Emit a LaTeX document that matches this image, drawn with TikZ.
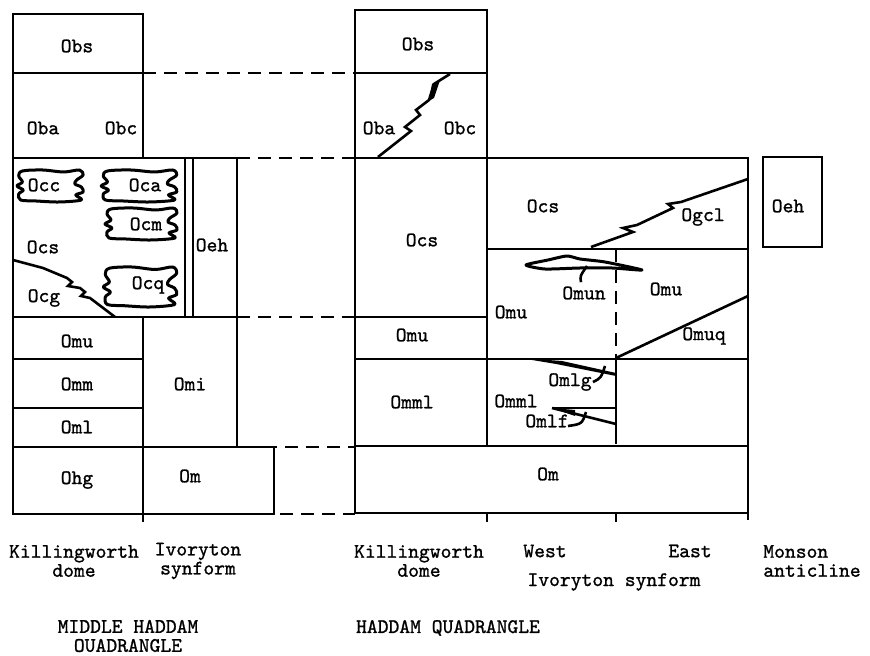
\documentclass[tikz,border=0pt]{standalone}
\usepackage{fontspec}
\usetikzlibrary{positioning}

\newfontfamily\typeface[FakeBold=1.1]{lmmono10-regular.otf}
\newcommand{\typefont}{\fontsize{10.3}{9.5}\selectfont\typeface}

\begin{document}
\begin{tikzpicture}[x=0.5pt,y=-0.5pt,line width=1.3pt,
  unit/.style={font=\typefont, inner sep=1pt},
  note/.style={font=\typefont, align=center, inner sep=1pt},
  tie/.style={dash pattern=on 6.5pt off 4pt},
  lens/.style={line width=1.5pt, line join=round},
  blob/.pic={
    \draw[lens] plot[smooth cycle, tension=0.55] coordinates {
      (-30,-15) (-8,-16) (15,-14) (32,-16) (36,-11) (29,-6) (27,-2)
      (34,1) (36,6) (28,9) (34,14) (10,16) (-15,15) (-32,14)
      (-34,8) (-29,4) (-36,0) (-30,-4) (-34,-10)};
  }]
  \path[use as bounding box] (0,0) rectangle (870,656);

  % Middle Haddam quadrangle, Killingworth dome
  \draw (13,14) rectangle (143,73);
  \draw (13,73) rectangle (143,158);
  \draw (13,158) rectangle (237,317);
  \draw (185,158) -- (185,317);
  \draw (193,158) -- (193,317);
  \draw (13,317) rectangle (143,359);
  \draw (13,359) rectangle (143,408);
  \draw (13,408) rectangle (143,447);
  \draw (13,447) rectangle (143,514);
  \draw (143,317) rectangle (237,447);
  \draw (143,447) -- (143,522);
  \draw (143,514) -- (274,514) -- (274,447) -- (143,447);

  % contact Ocs / Ocg
  \draw (13,260) -- (43,268) -- (67,278) -- (72,282) -- (68,286) -- (80,288)
    -- (85,292) -- (81,296) -- (90,298) -- (115,317);

  % lenses in Ocs
  \pic[xscale=0.92] at (50,186) {blob};
  \pic[xscale=1.05] at (139,186) {blob};
  \pic[xscale=1.0] at (141,224) {blob};
  \pic[xscale=1.02,yscale=1.25] at (140,287) {blob};

  % tie lines
  \draw[tie] (143,73) -- (355,73);
  \draw[tie] (237,158) -- (355,158);
  \draw[tie] (237,317) -- (355,317);
  \draw[tie] (243,447) -- (355,447);
  \draw[tie] (280,514) -- (355,514);

  % Haddam quadrangle
  \draw (355,10) rectangle (487,73);
  \draw (355,73) rectangle (487,158);
  \draw (355,158) rectangle (487,317);
  \draw (355,317) rectangle (487,359);
  \draw (487,158) rectangle (748,249);
  \draw (487,249) rectangle (748,359);
  \draw (355,359) rectangle (748,446);
  \draw (487,359) -- (487,446);
  \draw (616,359) -- (616,444);
  \draw (355,446) rectangle (748,513);
  \draw (487,513) -- (487,522);
  \draw (616,513) -- (616,522);
  \draw (748,513) -- (748,520);
  \draw[tie] (616,249) -- (616,358);
  \draw (763,157) rectangle (822,247);

  % contact Oba / Obc
  \draw (378,157) -- (411,131) -- (405,127) -- (420,115) -- (416,110) -- (429,100)
    -- (434,84) -- (450,74);
  \fill (429,101) -- (432,84) -- (440,80) -- (434,98) -- cycle;

  % contact Ocs / Ogcl
  \draw (591,247) -- (633,232) -- (623,228) -- (637,225) -- (673,208)
    -- (668,204) -- (681,202) -- (748,179);

  % Omun lens and Omuq contact
  \draw[lens] plot[smooth cycle, tension=0.4] coordinates {
    (526,265) (548,260) (567,256) (580,259) (605,262) (642,270)
    (612,268) (580,268) (545,269)};
  \draw (616,358) -- (748,296);

  % Omlg and Omlf wedges
  \fill (520,358) -- (562,361) -- (616,373) -- (616,376) -- (556,364) -- cycle;
  \draw (552,408) -- (616,408);
  \draw (552,408) -- (616,424);
  \fill (552,408) -- (575,410) -- (575,416) -- cycle;

  % labels
  \node[unit] (obs1) at (77,46) {Obs};
  \node[unit] (oba1) at (43,128) {Oba};
  \node[unit] (obc1) at (121,128) {Obc};
  \node[unit] (occ1) at (44,185) {Occ};
  \node[unit] (oca1) at (145,185) {Oca};
  \node[unit] (ocm1) at (146,224) {Ocm};
  \node[unit] (ocs1) at (43,247) {Ocs};
  \node[unit] (ocq1) at (148,285) {Ocq};
  \node[unit] (ocg1) at (44,298) {Ocg};
  \node[unit] (oeh1) at (212,245) {Oeh};
  \node[unit] (omu1) at (77,341) {Omu};
  \node[unit] (omm1) at (77,384) {Omm};
  \node[unit] (oml1) at (77,427) {Oml};
  \node[unit] (ohg1) at (77,480) {Ohg};
  \node[unit] (omi1) at (190,384) {Omi};
  \node[unit] (om1) at (190,476) {Om};

  \node[unit] (obs2) at (418,44) {Obs};
  \node[unit] (oba2) at (379,128) {Oba};
  \node[unit] (obc2) at (460,128) {Obc};
  \node[unit] (ocs2) at (422,240) {Ocs};
  \node[unit] (ocs3) at (543,206) {Ocs};
  \node[unit] (ogcl) at (703,217) {Ogcl};
  \node[unit] (oeh2) at (788,206) {Oeh};
  \node[unit] (omun) at (584,293) {Omun};
  \node[unit] (omu3) at (666,289) {Omu};
  \node[unit] (omu2) at (511,312) {Omu};
  \node[unit] (omuq) at (704,336) {Omuq};
  \node[unit] (omu4) at (412,335) {Omu};
  \node[unit] (omlg) at (570,382) {Omlg};
  \node[unit] (omml1) at (412,402) {Omml};
  \node[unit] (omml2) at (516,401) {Omml};
  \node[unit] (omlf) at (547,421) {Omlf};
  \node[unit] (om2) at (548,474) {Om};

  % leaders
  \draw (omun.north) ++(-3,-1) .. controls (580,276) .. (587,266);
  \draw (omlg.east) ++(-2,0) .. controls (601,378) .. (605,366);
  \draw (omlf.east) ++(-4,5) .. controls (582,424) .. (586,412);

  % column and quadrangle names
  \node[note] (kd1) at (74,561) {Killingworth\\dome};
  \node[note] (iv1) at (198,561) {Ivoryton\\synform};
  \node[note] (kd2) at (419,561) {Killingworth\\dome};
  \node[unit] (west) at (545,551) {West};
  \node[unit] (east) at (690,551) {East};
  \node[unit] (ivs) at (614,582) {Ivoryton synform};
  \node[note, align=left] (mon) at (812,561) {Monson\\anticline};
  \node[note] (mhq) at (128,636) {MIDDLE HADDAM\\OUADRANGLE};
  \node[unit] (hq) at (448,628) {HADDAM QUADRANGLE};
\end{tikzpicture}
\end{document}
